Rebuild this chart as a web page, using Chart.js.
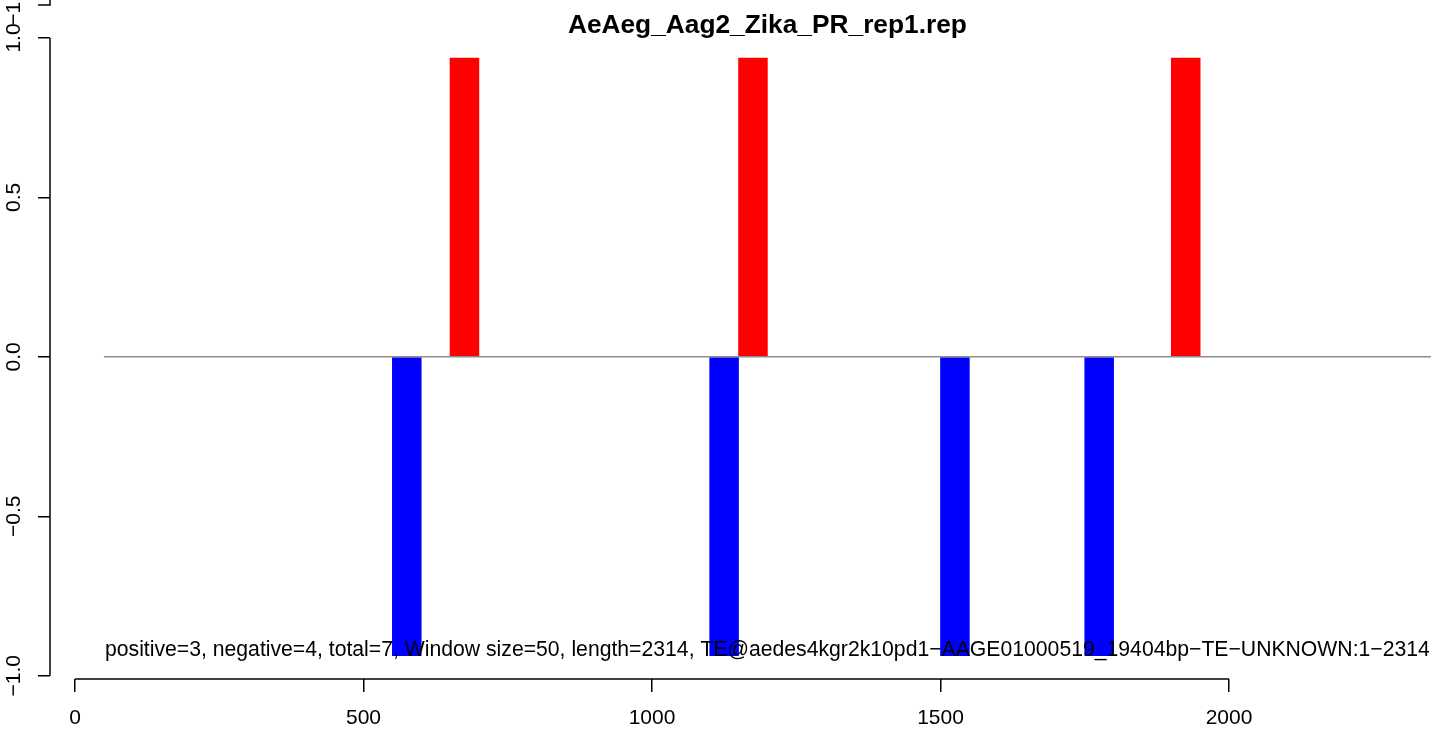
<!DOCTYPE html>
<html>
<head>
<meta charset="utf-8">
<script src="https://cdn.jsdelivr.net/npm/chart.js@4/dist/chart.umd.min.js"></script>
<style>
  html, body { margin: 0; padding: 0; background: #fff; }
</style>
</head>
<body>
<canvas id="repChart" width="1439" height="730"></canvas>
<script>
// windows of 50 bp, value per window (start position of window)
const posStarts = [650, 1150, 1900];
const posValues = [0.937, 0.937, 0.937];
const negStarts = [550, 1100, 1500, 1750];
const negValues = [-0.937, -0.937, -0.937, -0.937];
const windowSize = 50;
const baseline = [50, 2350];

const xTicks = [0, 500, 1000, 1500, 2000];
const yTicks = [-1, -0.5, 0, 0.5, 1];
const yLabels = ['\u22121.0', '\u22120.5', '0.0', '0.5', '1.0'];

const title = 'AeAeg_Aag2_Zika_PR_rep1.rep';
const note = 'positive=3, negative=4, total=7, Window size=50, length=2314, TE@aedes4kgr2k10pd1\u2212AAGE01000519_19404bp\u2212TE\u2212UNKNOWN:1\u22122314';

const FONT = '"Liberation Sans", Arial, Helvetica, sans-serif';

function toPoints(starts, vals) {
    return starts.map((s, i) => ({ x: s + windowSize / 2, y: vals[i] }));
}

const rAxes = {
    id: 'rAxes',
    afterDraw(chart) {
        const { ctx, chartArea, scales } = chart;
        const x = scales.x, y = scales.y;
        ctx.save();
        ctx.strokeStyle = '#000';
        ctx.lineWidth = 1.5;
        // x axis line only over the tick range, like R
        ctx.beginPath();
        ctx.moveTo(x.getPixelForValue(xTicks[0]), chartArea.bottom);
        ctx.lineTo(x.getPixelForValue(xTicks[xTicks.length - 1]), chartArea.bottom);
        ctx.stroke();
        // y axis line
        ctx.beginPath();
        ctx.moveTo(chartArea.left, y.getPixelForValue(yTicks[yTicks.length - 1]));
        ctx.lineTo(chartArea.left, y.getPixelForValue(yTicks[0]));
        ctx.stroke();
        // bit of the panel above (its -1.0 tick), cut by the page edge
        const gy = chartArea.top - 33;
        ctx.beginPath();
        ctx.moveTo(chartArea.left, 0);
        ctx.lineTo(chartArea.left, gy);
        ctx.lineTo(chartArea.left - 12, gy);
        ctx.stroke();

        ctx.fillStyle = '#000';
        ctx.font = '21px ' + FONT;
        ctx.textAlign = 'center';
        ctx.textBaseline = 'middle';
        const drawRot = (txt, py) => {
            ctx.save();
            ctx.translate(14, py);
            ctx.rotate(-Math.PI / 2);
            ctx.fillText(txt, 0, 0);
            ctx.restore();
        };
        yTicks.forEach((v, i) => drawRot(yLabels[i], y.getPixelForValue(v)));
        drawRot('\u22121.0', gy);

        // title
        ctx.font = 'bold 26.3px ' + FONT;
        ctx.textBaseline = 'alphabetic';
        ctx.fillText(title, x.getPixelForValue(1200), 33);

        // note inside plot
        ctx.font = '21.2px ' + FONT;
        ctx.fillText(note, x.getPixelForValue(1200), y.getPixelForValue(-0.938));
        ctx.restore();
    }
};

new Chart(document.getElementById('repChart'), {
    type: 'bar',
    data: {
        datasets: [{
            label: 'positive',
            data: toPoints(posStarts, posValues),
            backgroundColor: '#ff0000',
            borderWidth: 0,
            categoryPercentage: 1,
            barPercentage: 1,
            order: 1
        }, {
            label: 'negative',
            data: toPoints(negStarts, negValues),
            backgroundColor: '#0000ff',
            borderWidth: 0,
            categoryPercentage: 1,
            barPercentage: 1,
            order: 1
        }, {
            type: 'line',
            label: 'zero',
            data: baseline.map(v => ({ x: v, y: 0 })),
            borderColor: '#8c8c8c',
            borderWidth: 1.5,
            pointRadius: 0,
            order: 0
        }]
    },
    options: {
        responsive: false,
        animation: false,
        layout: { padding: { top: 38, right: 3, left: 0, bottom: 0 } },
        plugins: {
            legend: { display: false },
            tooltip: { enabled: false }
        },
        scales: {
            x: {
                type: 'linear',
                stacked: true,
                offset: false,
                min: -43.33,
                max: 2358.75,
                afterBuildTicks: s => { s.ticks = xTicks.map(v => ({ value: v })); },
                afterFit: s => { s.height = 51; },
                border: { display: false },
                grid: { offset: false, drawOnChartArea: false, drawTicks: true, tickLength: 13, color: '#000', lineWidth: 1.5 },
                ticks: {
                    color: '#000', font: { family: FONT, size: 21 }, padding: 14, maxRotation: 0, autoSkip: false,
                    callback: v => String(v)
                }
            },
            y: {
                type: 'linear',
                stacked: true,
                offset: false,
                min: -1.0103,
                max: 1.0,
                afterBuildTicks: s => { s.ticks = yTicks.map(v => ({ value: v })); },
                afterFit: s => { s.width = 50; },
                border: { display: false },
                grid: { drawOnChartArea: false, drawTicks: true, tickLength: 12, color: '#000', lineWidth: 1.5 },
                ticks: { display: false }
            }
        }
    },
    plugins: [rAxes]
});
</script>
</body>
</html>
